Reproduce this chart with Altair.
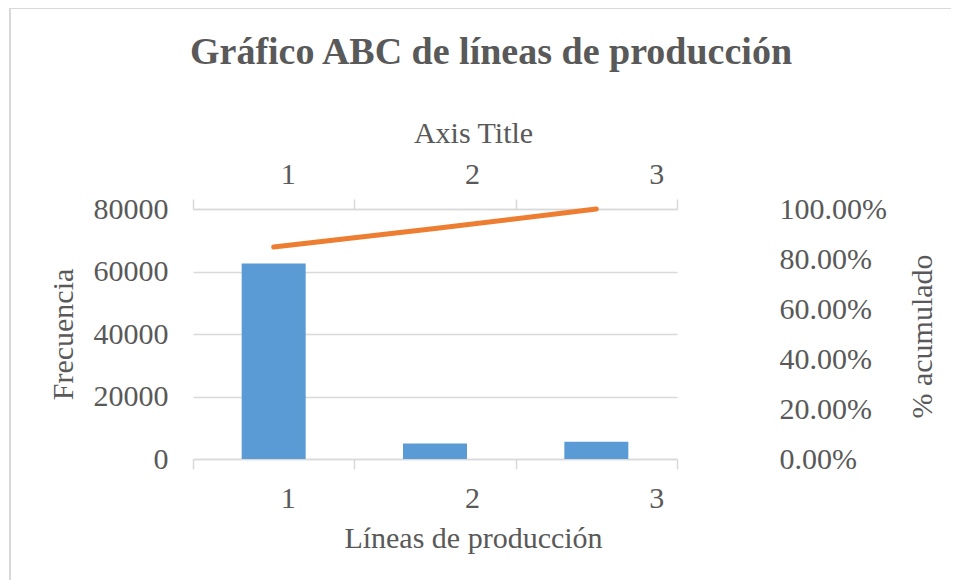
import altair as alt
import pandas as pd

# Data
lineas = ["1", "2", "3"]
frecuencia = [62600, 5000, 5500]
acumulado = [0.848, 0.922, 1.0]

left_ticks = [0, 20000, 40000, 60000, 80000]
right_ticks = [0.0, 0.2, 0.4, 0.6, 0.8, 1.0]

df = pd.DataFrame({"linea": lineas, "frecuencia": frecuencia, "acumulado": acumulado})

FONT = "Liberation Serif"
TXT = "#595959"
GRID = "#D9D9D9"

label_offset = {
    "condition": [
        {"test": "datum.value == '1'", "value": 14},
        {"test": "datum.value == '2'", "value": 37},
    ],
    "value": 60,
}

xscale = alt.Scale(paddingInner=0, paddingOuter=0)

# chart frame (top and left edges; the others fall outside the picture)
frame_top = alt.Chart(alt.Data(values=[{}])).mark_rule(
    stroke=GRID, strokeWidth=2
).encode(x=alt.value(-183), x2=alt.value(760), y=alt.value(-201), y2=alt.value(-201))
frame_left = alt.Chart(alt.Data(values=[{}])).mark_rule(
    stroke=GRID, strokeWidth=2
).encode(x=alt.value(-183), x2=alt.value(-183), y=alt.value(-201), y2=alt.value(400))

bars = alt.Chart(df).mark_bar(size=64, color="#5B9BD5").encode(
    x=alt.X(
        "linea:N",
        scale=xscale,
        sort=lineas,
        axis=alt.Axis(
            orient="bottom",
            title="Líneas de producción",
            labelAngle=0,
            tickBand="extent",
            labelOffset=label_offset,
            labelPadding=14,
            tickSize=10,
            tickColor=GRID,
            tickWidth=1.5,
            domainColor=GRID,
            domainWidth=1.5,
            titleX=280,
            titleY=88,
            titleAlign="center",
            titleBaseline="alphabetic",
        ),
    ),
    y=alt.Y(
        "frecuencia:Q",
        scale=alt.Scale(domain=[0, 80000], nice=False),
        axis=alt.Axis(
            orient="left",
            title="Frecuencia",
            values=left_ticks,
            format="d",
            ticks=False,
            domain=False,
            grid=True,
            gridColor=GRID,
            gridWidth=1.5,
            labelPadding=25,
            titleAngle=270,
            titleX=-130,
            titleY=125,
            titleAlign="center",
            titleBaseline="middle",
        ),
    ),
)

line = alt.Chart(df).mark_line(color="#ED7D31", strokeWidth=5, strokeCap="round").encode(
    x=alt.X(
        "linea:N",
        scale=xscale,
        sort=lineas,
        axis=alt.Axis(
            orient="top",
            title="Axis Title",
            labelAngle=0,
            tickBand="extent",
            labelOffset=label_offset,
            labelPadding=10,
            tickSize=10,
            tickColor=GRID,
            tickWidth=1.5,
            domainColor=GRID,
            domainWidth=1.5,
            titleX=280,
            titleY=-67,
            titleAlign="center",
            titleBaseline="alphabetic",
        ),
    ),
    y=alt.Y(
        "acumulado:Q",
        scale=alt.Scale(domain=[0, 1], nice=False),
        axis=alt.Axis(
            orient="right",
            title="% acumulado",
            values=right_ticks,
            format=".2%",
            ticks=False,
            domain=False,
            grid=False,
            labelPadding=102,
            titleAngle=270,
            titleX=245,
            titleY=127,
            titleAlign="center",
            titleBaseline="middle",
        ),
    ),
)

chart = alt.layer(frame_top, frame_left, bars, line).resolve_scale(
    x="independent", y="independent"
).properties(
    width=484,
    height=250,
    title=alt.Title(
        "Gráfico ABC de líneas de producción",
        font=FONT,
        fontSize=38,
        fontWeight="bold",
        color=TXT,
        anchor="middle",
        offset=0,
        dy=65,
        dx=56,
    ),
    autosize=alt.AutoSizeParams(type="none"),
    padding={"left": 185, "top": 201, "right": 274, "bottom": 121},
).configure(
    background="white"
).configure_axis(
    labelFont=FONT,
    labelFontSize=30,
    labelColor=TXT,
    titleFont=FONT,
    titleFontSize=30,
    titleColor=TXT,
    titleFontWeight="normal",
).configure_view(
    stroke=None
)

chart.save("out.html", embed_options={"renderer": "svg", "actions": False})
